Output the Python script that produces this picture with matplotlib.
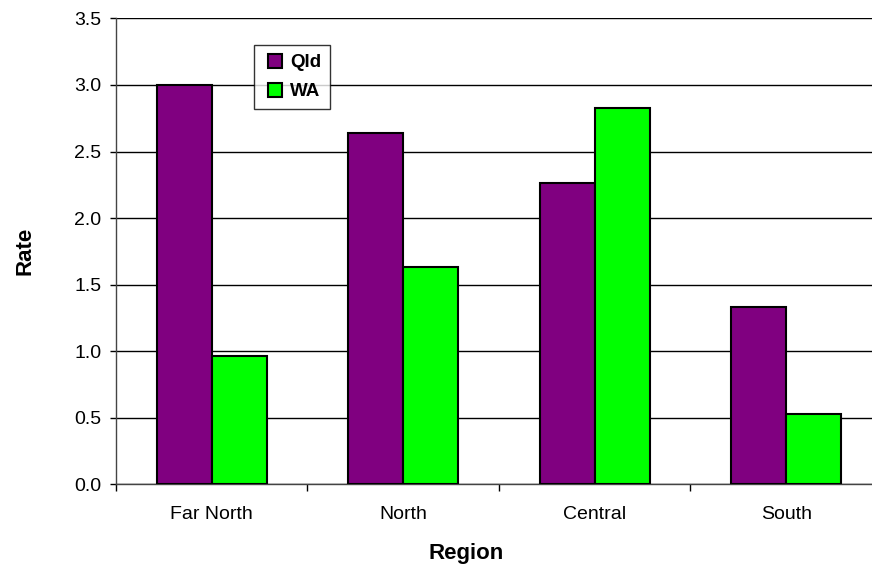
import matplotlib
matplotlib.use("Agg")
import matplotlib.pyplot as plt
from matplotlib.lines import Line2D
import numpy as np

plt.rcParams['font.family'] = ['Liberation Sans', 'DejaVu Sans']

regions = ["Far North", "North", "Central", "South"]
qld = [3.00, 2.64, 2.26, 1.33]
wa = [0.96, 1.63, 2.83, 0.525]
series_names = ["Qld", "WA"]
series_colors = ["#800080", "#00FF00"]
y_ticks = [0.0, 0.5, 1.0, 1.5, 2.0, 2.5, 3.0, 3.5]

fig = plt.figure(figsize=(8.72, 5.67), dpi=100)
# the plot area runs a little past the right edge of the canvas
ax = fig.add_axes([0.133, 0.146, 0.8784, 0.8215])

x = np.arange(len(regions))
w = 0.287
ax.bar(x - w / 2, qld, width=w, color=series_colors[0], edgecolor="black", linewidth=1.5, zorder=3)
ax.bar(x + w / 2, wa, width=w, color=series_colors[1], edgecolor="black", linewidth=1.5, zorder=3)

ax.set_xlim(-0.5, len(regions) - 0.5)
ax.set_ylim(0, 3.5)
ax.set_yticks(y_ticks)
ax.set_yticklabels([f"{v:.1f}" for v in y_ticks])
ax.yaxis.grid(True, color="black", linewidth=1.0, zorder=0)

# category boundaries get tick marks, category names sit between them
ax.set_xticks(np.arange(len(regions) + 1) - 0.5)
ax.set_xticklabels([])
ax.set_xticks(x, minor=True)
ax.set_xticklabels(regions, minor=True)
ax.tick_params(axis='x', which='minor', length=0, pad=16, labelsize=14)
ax.tick_params(axis='x', which='major', length=5, width=1, direction='out')
ax.tick_params(axis='y', length=4.5, width=1, direction='out', labelsize=14, pad=6)

for s in ["top", "right"]:
    ax.spines[s].set_visible(False)
for s in ["left", "bottom"]:
    ax.spines[s].set_linewidth(1.0)
    ax.spines[s].set_color("#444444")

ax.set_ylabel("Rate", fontsize=16, fontweight="bold", labelpad=28)
ax.set_xlabel("Region", fontsize=16, fontweight="bold", labelpad=14)
ax.xaxis.label.set_x(0.457)

handles = [Line2D([], [], linestyle="none", marker="s", markersize=10.5,
                  markerfacecolor=c, markeredgecolor="black", markeredgewidth=1.5)
           for c in series_colors]
leg = ax.legend(handles, series_names, loc="upper left", bbox_to_anchor=(0.180, 0.943),
                frameon=True, fancybox=False, edgecolor="black",
                handlelength=1.3, handletextpad=0.15, borderpad=0.48, labelspacing=0.65,
                borderaxespad=0, prop={'weight': 'bold', 'size': 13.5})
leg.get_frame().set_linewidth(1.0)

fig.savefig("out.png", dpi=100)
